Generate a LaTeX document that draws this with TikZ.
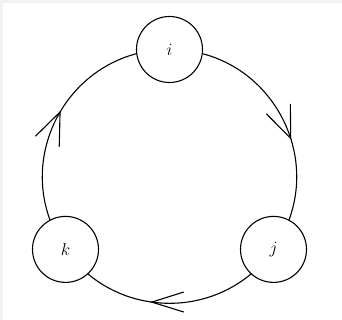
\documentclass[tikz,border=0pt]{standalone}
\usetikzlibrary{decorations.markings,backgrounds}
\tikzset{
  vert/.style={circle, draw, fill=white, line width=1.1pt, minimum size=66pt, inner sep=0pt, font=\fontsize{19}{22}\selectfont},
  ring/.style={line width=1.1pt},
  barb/.style n args={3}{postaction={decorate}, decoration={markings, mark=at position #1 with {\draw[line width=1.1pt, line join=miter, rotate=#3] (-32pt,#2) -- (0pt,0pt) -- (-32pt,-#2);}}}
}
\begin{document}
\begin{tikzpicture}[x=1pt,y=1pt]
\useasboundingbox (0,0) rectangle (342,320);
\node[vert] (i) at (169.5,270.5) {$i$};
\node[vert] (j) at (273.5,70.6) {$j$};
\node[vert] (k) at (65.5,70.6) {$k$};
\begin{scope}[on background layer]
  \fill[black!5] (0,0) rectangle (342,320);
  \fill[white] (3,0) rectangle (342,317);
  \draw[ring, barb={0.58}{13pt}{5}] (i.center) to[out=0, in=55, looseness=1.165] (j.center);
  \draw[ring, barb={0.573}{10pt}{8}] (j.center) to[out=-125, in=-55, looseness=1.082] (k.center);
  \draw[ring, barb={0.524}{13pt}{7}] (k.center) to[out=125, in=180, looseness=1.165] (i.center);
\end{scope}
\end{tikzpicture}
\end{document}
